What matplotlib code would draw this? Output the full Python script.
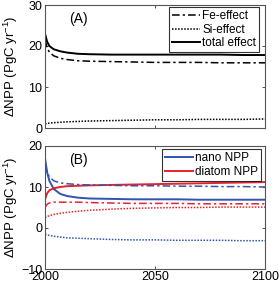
import matplotlib
matplotlib.use("Agg")
import matplotlib.pyplot as plt

plt.rcParams['font.family'] = ['Liberation Sans', 'DejaVu Sans']
plt.rcParams['mathtext.fontset'] = 'custom'
plt.rcParams['mathtext.rm'] = 'Liberation Sans'

years = [2000, 2001, 2002, 2004, 2007, 2010, 2015, 2020, 2030, 2040, 2050, 2060, 2070, 2080, 2090, 2100]

# Panel A
total_effect = [23.0, 21.0, 20.0, 19.2, 18.7, 18.4, 18.1, 18.0, 17.9, 17.9, 17.9, 17.9, 17.9, 17.9, 17.8, 17.8]
fe_effect    = [21.5, 19.5, 18.5, 17.6, 17.0, 16.7, 16.4, 16.3, 16.2, 16.1, 16.0, 16.0, 16.0, 15.9, 15.9, 15.9]
si_effect    = [1.0, 1.1, 1.2, 1.3, 1.4, 1.5, 1.6, 1.7, 1.8, 1.9, 2.0, 2.0, 2.1, 2.1, 2.1, 2.2]

# Panel B
nano_total   = [17.0, 13.5, 11.5, 9.5, 8.3, 7.8, 7.4, 7.2, 7.1, 7.0, 7.0, 7.0, 6.9, 6.9, 6.9, 6.9]
nano_fe      = [15.5, 13.5, 12.5, 11.5, 11.0, 10.8, 10.6, 10.5, 10.4, 10.3, 10.3, 10.2, 10.2, 10.1, 10.1, 10.0]
nano_si      = [-1.5, -1.7, -1.8, -2.0, -2.2, -2.4, -2.5, -2.6, -2.8, -2.9, -2.9, -3.0, -3.0, -3.0, -3.1, -3.1]
diatom_total = [7.0, 8.5, 9.2, 9.7, 10.0, 10.2, 10.3, 10.4, 10.5, 10.6, 10.7, 10.8, 10.9, 11.0, 11.1, 11.2]
diatom_fe    = [5.0, 5.8, 6.1, 6.3, 6.3, 6.3, 6.3, 6.2, 6.1, 6.0, 6.0, 6.0, 5.9, 5.9, 5.9, 5.9]
diatom_si    = [2.5, 2.8, 3.0, 3.3, 3.6, 3.8, 4.1, 4.3, 4.6, 4.8, 4.9, 5.0, 5.0, 5.1, 5.1, 5.1]

blue = '#2f55b0'
red = '#e8222a'

fig = plt.figure(figsize=(2.8, 2.84), dpi=100)
axA = fig.add_axes([45/280, 1-128/284, 220/280, 123/284])
axB = fig.add_axes([45/280, 1-269/284, 220/280, 123/284])

dashdot = (0, (5, 2, 1.5, 2))
dotted = (0, (1, 1))

legkw = dict(fontsize=8.5, frameon=True, fancybox=False, edgecolor='black',
             handlelength=2.4, handletextpad=0.15, borderpad=0.25, labelspacing=0.15,
             borderaxespad=0.0, loc='upper right')

axA.plot(years, fe_effect, color='black', ls=dashdot, lw=1.1, label='Fe-effect')
axA.plot(years, si_effect, color='black', ls=dotted, lw=1.1, label='Si-effect')
axA.plot(years, total_effect, color='black', ls='-', lw=1.4, label='total effect')
axA.set_ylim(0, 30)
axA.set_yticks([0, 10, 20, 30])
axA.set_xlim(2000, 2100)
axA.set_xticks([2000, 2050, 2100])
axA.set_xticklabels([])
axA.text(0.11, 0.85, '(A)', transform=axA.transAxes, fontsize=10)
axA.legend(bbox_to_anchor=(0.973, 0.984), **legkw).get_frame().set_linewidth(0.8)

axB.plot(years, nano_total, color=blue, ls='-', lw=1.4, label='nano NPP')
axB.plot(years, diatom_total, color=red, ls='-', lw=1.4, label='diatom NPP')
axB.plot(years, nano_fe, color=blue, ls=dashdot, lw=1.1)
axB.plot(years, nano_si, color=blue, ls=dotted, lw=1.1)
axB.plot(years, diatom_fe, color=red, ls=dashdot, lw=1.1)
axB.plot(years, diatom_si, color=red, ls=dotted, lw=1.1)
axB.set_ylim(-10, 20)
axB.set_yticks([-10, 0, 10, 20])
axB.set_xlim(2000, 2100)
axB.set_xticks([2000, 2050, 2100])
axB.text(0.11, 0.85, '(B)', transform=axB.transAxes, fontsize=10)
axB.legend(bbox_to_anchor=(0.98, 0.976), **legkw).get_frame().set_linewidth(0.8)

for ax in (axA, axB):
    ax.tick_params(direction='in', length=2.5, width=0.6, top=True, right=True,
                   labelsize=9, colors='#333333', labelcolor='black')
    ax.tick_params(axis='y', pad=2)
    ax.tick_params(axis='x', pad=1.2)
    for s in ax.spines.values():
        s.set_linewidth(0.8)
        s.set_color('#555555')
    ax.set_ylabel('ΔNPP (PgC yr$^{-1}$)', fontsize=9.5)
    ax.yaxis.set_label_coords(-0.112, 0.5)

fig.savefig('out.png', dpi=100)
